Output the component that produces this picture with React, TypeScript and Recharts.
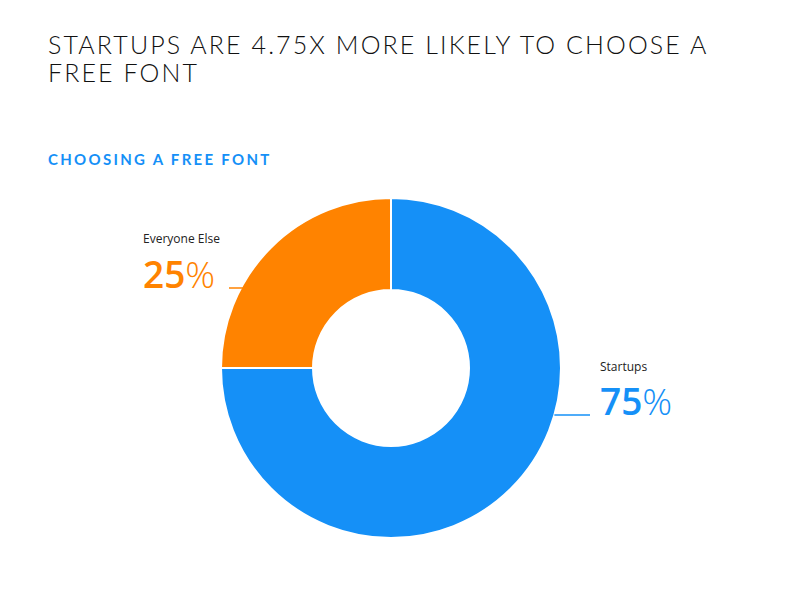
import React from 'react';
import { PieChart, Pie, Cell } from 'recharts';

const groups = ['Startups', 'Everyone Else'];
const shares = [75, 25];
const colors = ['#1590f7', '#ff8300'];

const data = groups.map((name, i) => ({ name, value: shares[i] }));

// label layout per slice: offsets from pie centre
const labelSpots = [
  { side: 'right', lineDy: 47, nameDy: 3, textDx: 209, lineEnd: 199 },
  { side: 'left', lineDy: -80, nameDy: -125, textDx: -248, lineEnd: -162 },
];

const SliceLabel = (props: any) => {
  const { cx, cy, outerRadius, index, name, value } = props;
  const spot = labelSpots[index];
  const color = colors[index];
  const y = cy + spot.lineDy;
  const edge = Math.sqrt(outerRadius * outerRadius - spot.lineDy * spot.lineDy);
  const x1 = spot.side === 'right' ? cx + edge : cx + spot.lineEnd;
  const x2 = spot.side === 'right' ? cx + spot.lineEnd : cx - edge + 2;
  const tx = cx + spot.textDx;
  return (
    <g>
      <line x1={x1} y1={y} x2={x2} y2={y} stroke={color} strokeWidth={1.5} />
      <text
        x={tx}
        y={cy + spot.nameDy}
        fontFamily="'Open Sans', sans-serif"
        fontSize={12}
        fill="#222"
      >
        {name}
      </text>
      <text x={tx} y={y} fontFamily="'Open Sans', sans-serif" fontSize={37} fill={color}>
        <tspan fontWeight={600}>{value}</tspan>
        <tspan fontWeight={300}>%</tspan>
      </text>
    </g>
  );
};

export default function App() {
  return (
    <div
      style={{
        position: 'absolute',
        left: 0,
        top: 0,
        width: 793,
        height: 613,
        background: '#fff',
      }}
    >
      <div
        style={{
          position: 'absolute',
          left: 48,
          top: 30,
          width: 720,
          fontFamily: "Lato, 'Open Sans', sans-serif",
          fontWeight: 300,
          fontSize: 25,
          lineHeight: '28px',
          letterSpacing: 2.1,
          color: '#111',
          whiteSpace: 'nowrap',
        }}
      >
        STARTUPS ARE 4.75X MORE LIKELY TO CHOOSE A<br />
        FREE FONT
      </div>
      <div
        style={{
          position: 'absolute',
          left: 48,
          top: 150,
          fontFamily: "Lato, 'Open Sans', sans-serif",
          fontWeight: 700,
          fontSize: 15,
          letterSpacing: 2.3,
          color: colors[0],
        }}
      >
        CHOOSING A FREE FONT
      </div>
      <div style={{ position: 'absolute', left: 0, top: 0 }}>
        <PieChart width={793} height={613} margin={{ top: 0, right: 0, bottom: 0, left: 0 }}>
          <Pie
            data={data}
            dataKey="value"
            nameKey="name"
            cx={391}
            cy={368}
            innerRadius={78}
            outerRadius={170}
            startAngle={90}
            endAngle={-270}
            stroke="#fff"
            strokeWidth={2}
            label={SliceLabel}
            labelLine={false}
            isAnimationActive={false}
          >
            {data.map((d, i) => (
              <Cell key={d.name} fill={colors[i]} />
            ))}
          </Pie>
        </PieChart>
      </div>
    </div>
  );
}
